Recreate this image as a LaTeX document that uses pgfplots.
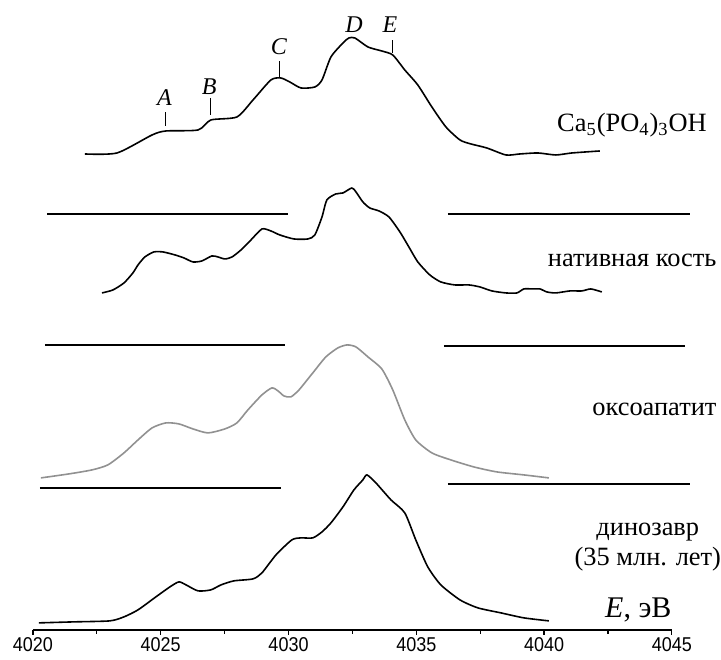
\documentclass[border=0pt]{standalone}
\usepackage{fontspec}
\setmainfont{Liberation Serif}
\newfontfamily\sansf[FakeStretch=0.9]{Liberation Sans}
\usepackage{pgfplots}
\pgfplotsset{compat=1.18}
\definecolor{oxgray}{RGB}{145,145,145}

\begin{document}
\begin{tikzpicture}
\begin{axis}[
  scale only axis, width=319.5pt, height=315pt,
  xmin=4020, xmax=4045, ymin=0, ymax=630,
  axis y line=none, axis x line*=bottom,
  axis line style={-, line width=0.7pt},
  xtick={4020,4025,...,4045}, minor x tick num=1,
  tick align=outside, major tick length=2.5pt, minor tick length=2pt,
  tick style={black, line width=0.6pt},
  scaled x ticks=false,
  xticklabel style={font=\sansf\fontsize{10}{12}\selectfont, inner sep=1pt},
  /pgf/number format/assume math mode=true,
  /pgf/number format/1000 sep={},
  clip=false,
  every axis plot/.append style={line width=0.8pt, line join=round},
]
% Ca5(PO4)3OH
\addplot[black, smooth, tension=0.4] coordinates {
(4022.03,476) (4023.29,477) (4024.66,495) (4025.20,499) (4026.46,500) (4026.96,510)
(4027.98,513) (4028.61,530) (4029.31,550) (4029.70,552) (4030.05,548) (4030.49,542)
(4031.03,543) (4031.31,550) (4031.66,573) (4032.13,587) (4032.36,592) (4032.60,592)
(4033.11,583) (4033.65,579) (4034.08,575) (4034.55,560) (4035.06,545) (4035.61,523)
(4036.16,503) (4036.71,490) (4037.14,486) (4037.76,482) (4038.51,475) (4039.05,476)
(4039.76,477) (4040.46,475) (4041.09,477) (4042.18,479)};
% native bone
\addplot[black, smooth, tension=0.4] coordinates {
(4022.70,337) (4023.13,340) (4023.56,347) (4023.91,357) (4024.11,365) (4024.38,373)
(4024.73,378) (4025.09,378) (4025.56,375) (4025.91,372) (4026.26,368) (4026.61,369)
(4027.00,374) (4027.24,373) (4027.51,371) (4027.79,373) (4028.14,380) (4028.53,390)
(4028.96,401) (4029.31,399) (4029.66,395) (4030.21,391) (4030.76,391) (4031.03,395)
(4031.31,413) (4031.50,430) (4031.85,436) (4032.13,437) (4032.48,442) (4032.64,438)
(4032.91,428) (4033.18,422) (4033.54,419) (4033.93,413) (4034.36,398) (4034.71,383)
(4035.06,368) (4035.53,355) (4035.96,348) (4036.51,345) (4037.06,345) (4037.49,343)
(4037.96,339) (4038.51,337) (4038.94,337) (4039.21,341) (4039.56,341) (4039.84,341)
(4040.11,338) (4040.46,337) (4041.01,339) (4041.48,339) (4041.83,341) (4042.26,338)};
% oxyapatite
\addplot[oxgray, smooth, tension=0.4] coordinates {
(4020.31,152) (4021.41,156) (4022.31,160) (4022.93,165) (4023.56,177) (4024.11,190)
(4024.66,202) (4025.20,207) (4025.71,206) (4026.26,201) (4026.85,197) (4027.51,201)
(4027.98,207) (4028.41,220) (4028.96,235) (4029.35,242) (4029.59,239) (4029.82,234)
(4030.09,233) (4030.41,240) (4030.95,257) (4031.46,273) (4031.93,282) (4032.29,285)
(4032.64,283) (4033.11,273) (4033.65,261) (4034.08,240) (4034.55,210) (4034.98,190)
(4035.61,177) (4036.35,170) (4037.25,163) (4038.15,158) (4039.21,155) (4040.19,152)};
% dinosaur
\addplot[black, smooth, tension=0.4] coordinates {
(4020.23,7) (4021.60,8) (4023.01,9) (4023.56,13) (4024.11,20) (4024.81,33)
(4025.36,43) (4025.71,48) (4025.99,45) (4026.46,39) (4026.96,40) (4027.36,45)
(4027.86,49) (4028.61,51) (4028.96,57) (4029.51,75) (4030.13,90) (4030.49,92)
(4030.95,92) (4031.31,98) (4031.66,107) (4032.13,123) (4032.56,140) (4032.91,150)
(4033.07,155) (4033.42,147) (4034.01,130) (4034.55,117) (4034.98,90) (4035.45,63)
(4035.96,45) (4036.71,30) (4037.41,22) (4038.31,17) (4039.21,12) (4040.19,9)};
% separators
\addplot[black] coordinates {(4020.55,416) (4029.98,416)};
\addplot[black] coordinates {(4036.24,416) (4045.70,416)};
\addplot[black] coordinates {(4020.47,285) (4029.86,285)};
\addplot[black] coordinates {(4036.08,284) (4045.51,284)};
\addplot[black] coordinates {(4020.27,142) (4029.70,142)};
\addplot[black] coordinates {(4036.24,146) (4045.70,146)};
% feature markers
\addplot[black, line width=0.6pt] coordinates {(4025.20,504) (4025.20,518)};
\addplot[black, line width=0.6pt] coordinates {(4026.96,515) (4026.96,532)};
\addplot[black, line width=0.6pt] coordinates {(4029.66,553) (4029.66,569)};
\addplot[black, line width=0.6pt] coordinates {(4034.08,577) (4034.08,590)};
\begin{scope}[every node/.style={font=\fontsize{12}{14}\selectfont\itshape, inner sep=0pt}]
\node at (axis cs:4025.15,532) {A};
\node at (axis cs:4026.90,543) {B};
\node at (axis cs:4029.62,583) {C};
\node at (axis cs:4032.56,605) {D};
\node at (axis cs:4033.97,605) {E};
\end{scope}
\begin{scope}[every node/.style={font=\fontsize{13.2}{15}\selectfont, inner sep=0pt}]
\node[anchor=base west] at (axis cs:4040.5,498) {Ca\textsubscript{5}(PO\textsubscript{4})\textsubscript{3}OH};
\node[anchor=base east] at (axis cs:4046.76,363) {нативная кость};
\node[anchor=base east] at (axis cs:4046.76,214) {оксоапатит};
\node[anchor=base] at (axis cs:4044.06,94) {динозавр};
\node[anchor=base] at (axis cs:4044.06,64) {(35 млн. лет)};
\end{scope}
\node[anchor=base east, inner sep=0pt, font=\fontsize{15}{17}\selectfont] at (axis cs:4045,12) {\textit{E}, эВ};
\path (axis cs:4018.71,-30) rectangle (axis cs:4046.92,630);
\end{axis}
\end{tikzpicture}
\end{document}
